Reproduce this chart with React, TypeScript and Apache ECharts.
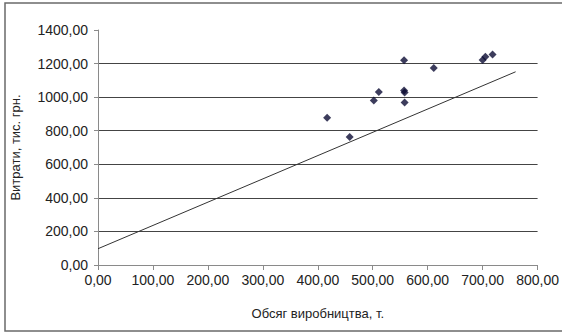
import React, { useEffect, useRef } from "react";
import * as echarts from "echarts";

const xValues = [417, 458, 502, 511, 557, 557, 558, 558, 611, 700, 705, 718];
const yValues = [877, 762, 980, 1030, 1220, 1040, 1027, 968, 1173, 1222, 1240, 1254];
const trendX = [0, 760];
const trendY = [97, 1151];
const xTitle = "Обсяг виробництва, т.";
const yTitle = "Витрати, тис. грн.";

const fmt = (v: number) => v.toFixed(2).replace(".", ",");

export default function App() {
  const ref = useRef<HTMLDivElement>(null);
  useEffect(() => {
    if (!ref.current) return;
    const chart = echarts.init(ref.current, undefined, { renderer: "svg" });
    const font = "'Liberation Sans', Arial, sans-serif";
    chart.setOption({
      animation: false,
      backgroundColor: "#ffffff",
      textStyle: { fontFamily: font },
      graphic: [
        {
          type: "rect",
          shape: { x: 5, y: 3, width: 570, height: 328 },
          style: { fill: "none", stroke: "#6a6a6a", lineWidth: 1.5 },
          z: 100,
        },
      ],
      grid: { left: 98, right: 19, top: 30, bottom: 68 },
      xAxis: {
        type: "value",
        min: 0,
        max: 800,
        interval: 100,
        name: xTitle,
        nameLocation: "middle",
        nameGap: 42,
        nameTextStyle: { fontSize: 13, color: "#222", fontFamily: font },
        axisLine: { show: true, onZero: false, lineStyle: { color: "#8a8a8a", width: 1 } },
        axisTick: { show: true, inside: false, length: 5, lineStyle: { color: "#8a8a8a" } },
        axisLabel: { formatter: fmt, fontSize: 14, color: "#222", margin: 8, fontFamily: font },
        splitLine: { show: false },
      },
      yAxis: {
        type: "value",
        min: 0,
        max: 1400,
        interval: 200,
        name: yTitle,
        nameLocation: "middle",
        nameRotate: 90,
        nameGap: 76,
        nameTextStyle: { fontSize: 13, color: "#222", fontFamily: font },
        axisLine: { show: true, lineStyle: { color: "#8a8a8a", width: 1 } },
        axisTick: { show: true, length: 4, lineStyle: { color: "#8a8a8a" } },
        axisLabel: { formatter: fmt, fontSize: 14, color: "#222", margin: 10, fontFamily: font },
        splitLine: {
          show: true,
          lineStyle: {
            color: ["transparent", "#444", "#444", "#444", "#444", "#444", "#444", "transparent"],
            width: 1,
          },
        },
      },
      series: [
        {
          type: "line",
          data: trendX.map((x, i) => [x, trendY[i]]),
          showSymbol: false,
          symbol: "none",
          lineStyle: { color: "#333", width: 1 },
          z: 2,
        },
        {
          type: "scatter",
          data: xValues.map((x, i) => [x, yValues[i]]),
          symbol: "diamond",
          symbolSize: 8,
          itemStyle: { color: "#0b0b33" },
          z: 3,
        },
      ],
    });
    return () => chart.dispose();
  }, []);
  return (
    <div
      ref={ref}
      style={{ position: "fixed", left: 0, top: 0, width: 562, height: 333 }}
    />
  );
}
